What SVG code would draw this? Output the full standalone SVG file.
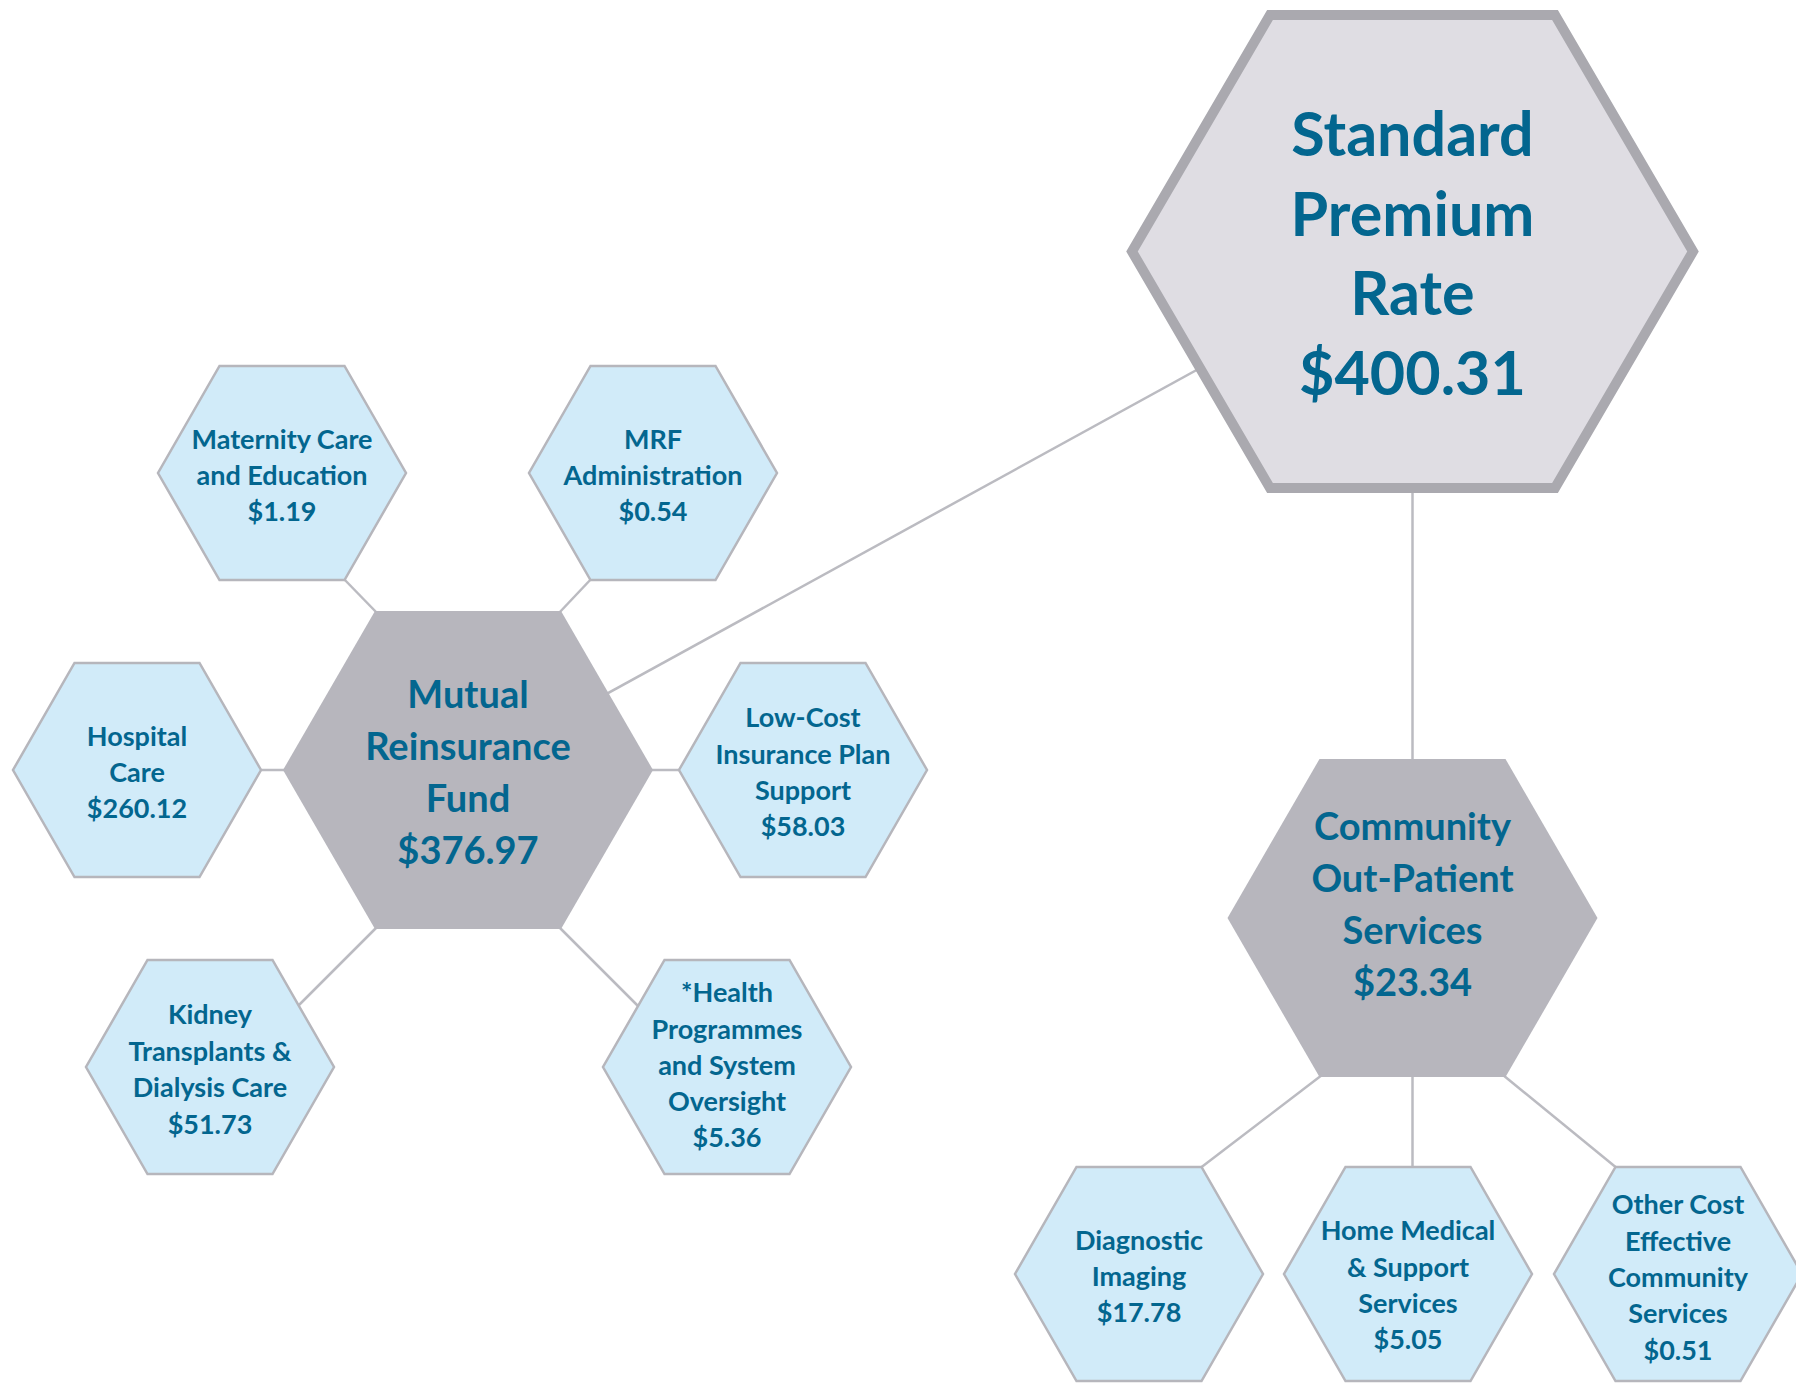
<svg xmlns="http://www.w3.org/2000/svg" width="1796" height="1383" viewBox="0 0 1796 1383">
<style>
  .conn { stroke: #bbbbc1; stroke-width: 2.5; fill: none; }
  .small { fill: #d1ebf9; stroke: #b6b6bc; stroke-width: 2.5; stroke-linejoin: miter; }
  .big { fill: #b7b6bd; stroke: none; }
  .top { fill: #dfdde3; stroke: #aaa9af; stroke-width: 10; stroke-linejoin: miter; }
  text { font-family: Lato, "Open Sans", "Liberation Sans", sans-serif; font-weight: bold; fill: #03668f; text-anchor: middle; }
  .ts { font-size: 27px; }
  .tb { font-size: 38px; }
  .tt { font-size: 61px; }
</style>
<rect width="1796" height="1383" fill="#ffffff"/>
<g id="connectors">
  <line class="conn" x1="468" y1="770" x2="1412.5" y2="251.5"/>
  <line class="conn" x1="1412.5" y1="251.5" x2="1412.5" y2="918"/>
  <line class="conn" x1="342" y1="577" x2="378" y2="614"/>
  <line class="conn" x1="593" y1="577" x2="558" y2="614"/>
  <line class="conn" x1="258" y1="770" x2="286" y2="770"/>
  <line class="conn" x1="650" y1="770" x2="682" y2="770"/>
  <line class="conn" x1="378" y1="926" x2="296" y2="1008"/>
  <line class="conn" x1="558" y1="926" x2="640" y2="1008"/>
  <line class="conn" x1="1322" y1="1075" x2="1199" y2="1169"/>
  <line class="conn" x1="1412.5" y1="1075" x2="1412.5" y2="1169"/>
  <line class="conn" x1="1503" y1="1075" x2="1618" y2="1169"/>
</g>
<g id="standard-premium-rate">
  <polygon class="top" points="1270,15 1555,15 1693,251.5 1555,488 1270,488 1132,251.5"/>
  <text class="tt" x="1412.5" y="156">Standard</text>
  <text class="tt" x="1412.5" y="236">Premium</text>
  <text class="tt" x="1412.5" y="315">Rate</text>
  <text class="tt" x="1412.5" y="395">$400.31</text>
</g>
<g id="mutual-reinsurance-fund">
  <polygon class="big" points="375,611 561,611 653,770 561,929 375,929 283,770"/>
  <text class="tb" x="468" y="708">Mutual</text>
  <text class="tb" x="468" y="760">Reinsurance</text>
  <text class="tb" x="468" y="811.5">Fund</text>
  <text class="tb" x="468" y="864">$376.97</text>
</g>
<g id="community-out-patient">
  <polygon class="big" points="1319.5,759 1505.5,759 1597.5,918 1505.5,1077 1319.5,1077 1227.5,918"/>
  <text class="tb" x="1412.5" y="840">Community</text>
  <text class="tb" x="1412.5" y="892">Out-Patient</text>
  <text class="tb" x="1412.5" y="944">Services</text>
  <text class="tb" x="1412.5" y="996">$23.34</text>
</g>
<g id="maternity">
  <polygon class="small" points="219.5,366 344.5,366 406,473 344.5,580 219.5,580 158,473"/>
  <text class="ts" x="282" y="448.5">Maternity Care</text>
  <text class="ts" x="282" y="484.7">and Education</text>
  <text class="ts" x="282" y="520.9">$1.19</text>
</g>
<g id="mrf-admin">
  <polygon class="small" points="590.5,366 715.5,366 777,473 715.5,580 590.5,580 529,473"/>
  <text class="ts" x="653" y="448.5">MRF</text>
  <text class="ts" x="653" y="484.7">Administration</text>
  <text class="ts" x="653" y="520.9">$0.54</text>
</g>
<g id="hospital">
  <polygon class="small" points="74.5,663 199.5,663 261,770 199.5,877 74.5,877 13,770"/>
  <text class="ts" x="137" y="745.5">Hospital</text>
  <text class="ts" x="137" y="781.7">Care</text>
  <text class="ts" x="137" y="817.9">$260.12</text>
</g>
<g id="low-cost">
  <polygon class="small" points="740.5,663 865.5,663 927,770 865.5,877 740.5,877 679,770"/>
  <text class="ts" x="803" y="727.4">Low-Cost</text>
  <text class="ts" x="803" y="763.6">Insurance Plan</text>
  <text class="ts" x="803" y="799.8">Support</text>
  <text class="ts" x="803" y="836">$58.03</text>
</g>
<g id="kidney">
  <polygon class="small" points="147.5,960 272.5,960 334,1067 272.5,1174 147.5,1174 86,1067"/>
  <text class="ts" x="210" y="1024.4">Kidney</text>
  <text class="ts" x="210" y="1060.6">Transplants &amp;</text>
  <text class="ts" x="210" y="1096.8">Dialysis Care</text>
  <text class="ts" x="210" y="1133.5">$51.73</text>
</g>
<g id="health-programmes">
  <polygon class="small" points="664.5,960 789.5,960 851,1067 789.5,1174 664.5,1174 603,1067"/>
  <text class="ts" x="727" y="1002.3">*Health</text>
  <text class="ts" x="727" y="1038.5">Programmes</text>
  <text class="ts" x="727" y="1074.7">and System</text>
  <text class="ts" x="727" y="1110.9">Oversight</text>
  <text class="ts" x="727" y="1147.1">$5.36</text>
</g>
<g id="diagnostic">
  <polygon class="small" points="1076.5,1167 1201.5,1167 1263,1274 1201.5,1381 1076.5,1381 1015,1274"/>
  <text class="ts" x="1139" y="1249.5">Diagnostic</text>
  <text class="ts" x="1139" y="1285.7">Imaging</text>
  <text class="ts" x="1139" y="1321.9">$17.78</text>
</g>
<g id="home-medical">
  <polygon class="small" points="1345.5,1167 1470.5,1167 1532,1274 1470.5,1381 1345.5,1381 1284,1274"/>
  <text class="ts" x="1408" y="1240.4">Home Medical</text>
  <text class="ts" x="1408" y="1276.6">&amp; Support</text>
  <text class="ts" x="1408" y="1312.8">Services</text>
  <text class="ts" x="1408" y="1349">$5.05</text>
</g>
<g id="other-cost">
  <polygon class="small" points="1615.5,1167 1740.5,1167 1802,1274 1740.5,1381 1615.5,1381 1554,1274"/>
  <text class="ts" x="1678" y="1214.3">Other Cost</text>
  <text class="ts" x="1678" y="1250.5">Effective</text>
  <text class="ts" x="1678" y="1286.7">Community</text>
  <text class="ts" x="1678" y="1322.9">Services</text>
  <text class="ts" x="1678" y="1359.6">$0.51</text>
</g>
</svg>
